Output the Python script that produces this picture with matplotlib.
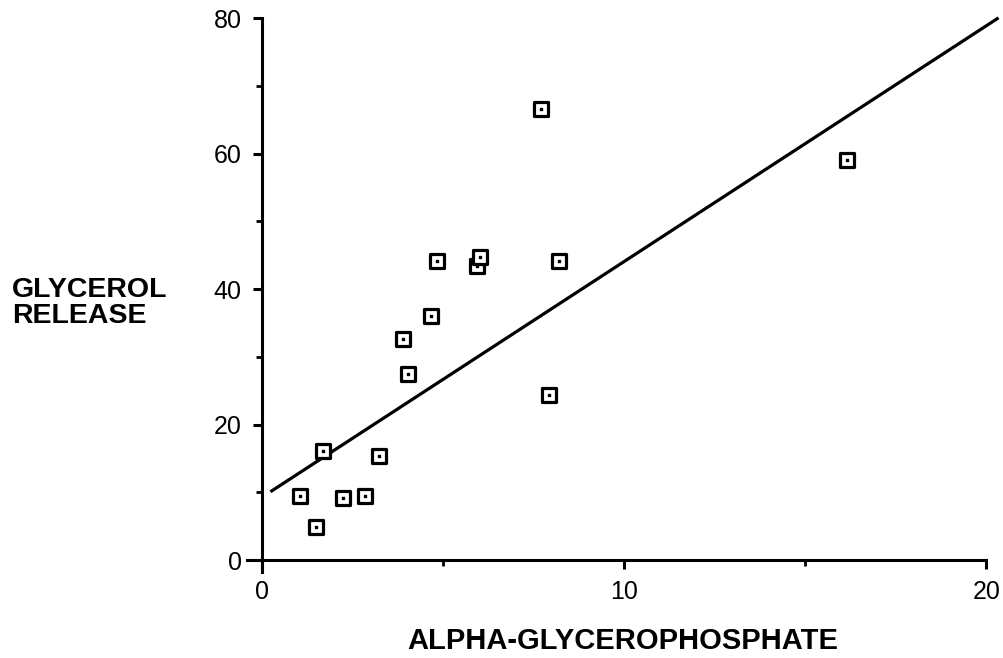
import matplotlib
matplotlib.use("Agg")
import matplotlib.pyplot as plt
from matplotlib.ticker import MultipleLocator

# --- data ---
alpha_gp = [1.05, 1.49, 1.68, 2.25, 2.85, 3.24, 3.90, 4.04, 4.66, 4.84,
            5.93, 6.02, 7.70, 7.93, 8.20, 16.15]
glycerol = [9.5, 4.9, 16.1, 9.1, 9.45, 15.4, 32.6, 27.5, 36.0, 44.2,
            43.4, 44.7, 66.5, 24.4, 44.2, 59.0]

# regression line end points
fit_x = [0.27, 20.3]
fit_y = [10.2, 79.9]

x_ticks = [0, 10, 20]
y_ticks = [0, 20, 40, 60, 80]

plt.rcParams["font.family"] = ["Liberation Sans", "DejaVu Sans"]

fig = plt.figure(figsize=(10.04, 6.58), dpi=100)
ax = fig.add_axes([0.2465, 0.1304, 0.7395, 0.8453])

ax.set_xlim(-0.4, 20.1)
ax.set_ylim(-1.8, 80.3)

ax.plot(fit_x, fit_y, color="black", lw=2.3, clip_on=False, zorder=2)

# hollow square markers with a small dot in the middle
ax.scatter(alpha_gp, glycerol, marker="s", s=95, facecolor="white",
           edgecolor="black", linewidths=2.3, zorder=3)
ax.scatter(alpha_gp, glycerol, marker="s", s=4, color="black", zorder=4)

for side in ["top", "right"]:
    ax.spines[side].set_visible(False)
ax.spines["left"].set_position(("data", 0))
ax.spines["bottom"].set_position(("data", 0))
ax.spines["left"].set_bounds(-1.8, 80)
ax.spines["bottom"].set_bounds(-0.4, 20)
for side in ["left", "bottom"]:
    ax.spines[side].set_linewidth(2.2)

ax.set_xticks(x_ticks)
ax.set_yticks(y_ticks)
ax.xaxis.set_minor_locator(MultipleLocator(5))
ax.yaxis.set_minor_locator(MultipleLocator(10))
ax.tick_params(which="major", direction="out", length=6.5, width=2.2,
               labelsize=18, pad=8)
ax.tick_params(which="minor", direction="out", length=4, width=2.0)

fig.text(0.012, 0.540, "GLYCEROL\nRELEASE", fontsize=20.5, fontweight="bold",
         ha="left", va="center", linespacing=1.0)
fig.text(0.6205, 0.026, "ALPHA-GLYCEROPHOSPHATE", fontsize=21,
         fontweight="bold", ha="center", va="center")

plt.savefig("out.png", dpi=100)
